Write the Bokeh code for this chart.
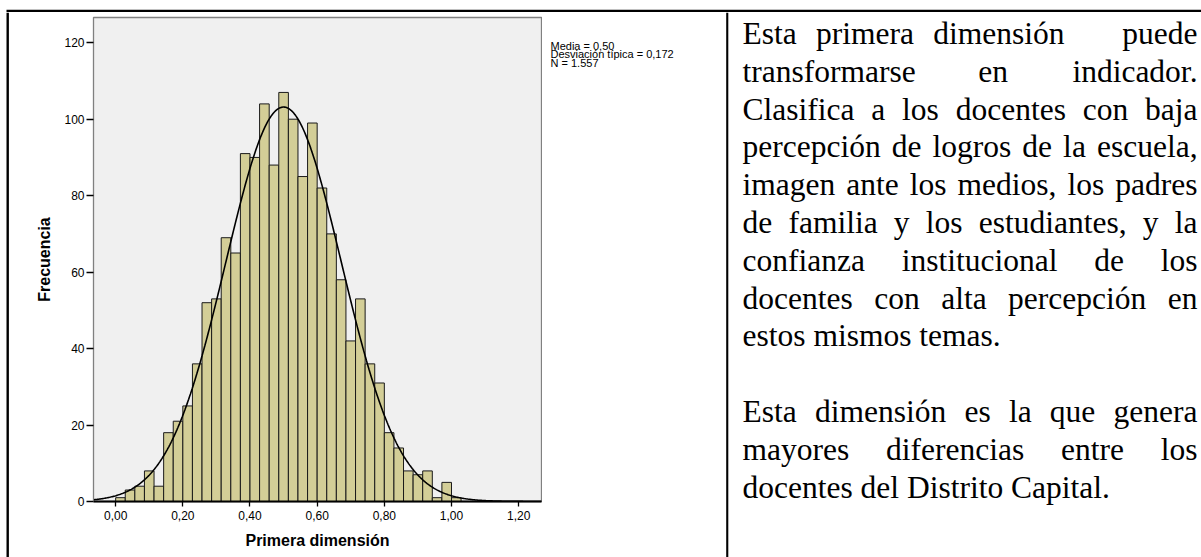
import numpy as np
from bokeh.plotting import figure
from bokeh.layouts import row, column
from bokeh.models import Range1d, FixedTicker, ColumnDataSource
from bokeh.core.properties import value
from bokeh.embed import file_html
from bokeh.resources import INLINE

# ---------------- data ----------------
counts = [1, 3, 4, 8, 4, 18, 21, 25, 36, 52, 53, 69, 65, 91, 90, 104, 88, 107,
          100, 85, 99, 82, 70, 58, 42, 53, 36, 31, 18, 14, 8, 7, 8, 1, 5, 1]
bin_start = 0.0
bin_width = 1 / 35
mean_val = 0.50
std_val = 0.172
n_total = 1557
x_ticks = [0.0, 0.2, 0.4, 0.6, 0.8, 1.0, 1.2]
x_tick_labels = ["0,00", "0,20", "0,40", "0,60", "0,80", "1,00", "1,20"]
y_ticks = [0, 20, 40, 60, 80, 100, 120]
stats_lines = ["Media = 0,50", "Desviación típica = 0,172", "N = 1.557"]
x_label = "Primera dimensión"
y_label = "Frecuencia"
para1 = ["Esta primera dimensión   puede",
         "transformarse en indicador.",
         "Clasifica a los docentes con baja",
         "percepción de logros de la escuela,",
         "imagen ante los medios, los padres",
         "de familia y los estudiantes, y la",
         "confianza institucional de los",
         "docentes con alta percepción en",
         "estos mismos temas."]
para2 = ["Esta dimensión es la que genera",
         "mayores diferencias entre los",
         "docentes del Distrito Capital."]

# ---------------- layout constants (page pixels) ----------------
PAGE_W, PAGE_H = 1201, 557
TOP_H = 12          # strip holding the table's top rule
LEFT_W = 9          # strip holding the table's left rule
HIST_RIGHT = 542    # histogram figure ends here
BODY_H = PAGE_H - TOP_H
W_HIST = HIST_RIGHT - LEFT_W
W_TEXT = PAGE_W - HIST_RIGHT
ML, MR, MT, MB = 84, 1, 5, 56
X0, X1 = -0.066, 1.268
Y0, Y1 = 0, 126.6

SANS = "Liberation Sans"
SERIF = "Liberation Serif"


def no_align(fig):
    if "frame_align" in fig.properties():
        fig.frame_align = False
    return fig


def blank_fig(w, h, x_range, y_range):
    f = figure(width=w, height=h, x_range=x_range, y_range=y_range, title=None,
               output_backend="svg", toolbar_location=None, min_border=0,
               x_axis_location=None, y_axis_location=None)
    f.grid.visible = False
    f.outline_line_color = None
    f.background_fill_color = "white"
    f.border_fill_color = "white"
    return no_align(f)


# ---------------- top rule strip ----------------
top = blank_fig(PAGE_W, TOP_H, Range1d(0, PAGE_W), Range1d(TOP_H, 0))
top.quad(left=[6], right=[PAGE_W], top=[9.3], bottom=[TOP_H], fill_color="black", line_color=None)

# ---------------- left rule strip ----------------
left = blank_fig(LEFT_W, BODY_H, Range1d(0, LEFT_W), Range1d(BODY_H, 0))
left.quad(left=[6], right=[8.4], top=[0], bottom=[BODY_H], fill_color="black", line_color=None)

# ---------------- histogram ----------------
p = figure(width=W_HIST, height=BODY_H, x_range=Range1d(X0, X1), y_range=Range1d(Y0, Y1),
           title=None, output_backend="svg", toolbar_location=None,
           min_border_left=ML, min_border_right=MR, min_border_top=MT, min_border_bottom=MB)
no_align(p)
p.background_fill_color = "#F0F0F0"
p.border_fill_color = "white"
p.outline_line_color = "#808080"
p.outline_line_width = 1.3
p.grid.visible = False

edges = [bin_start + i * bin_width for i in range(len(counts) + 1)]
src = ColumnDataSource(dict(left=edges[:-1], right=edges[1:], top=counts,
                            bottom=[0] * len(counts)))
p.quad(left="left", right="right", top="top", bottom="bottom", source=src,
       fill_color="#D3CE97", line_color="#1a1a1a", line_width=1)

xs = np.linspace(X0, X1, 500)
ys = n_total * bin_width * np.exp(-0.5 * ((xs - mean_val) / std_val) ** 2) / (std_val * np.sqrt(2 * np.pi))
p.line(xs, ys, line_color="black", line_width=1.6)

p.xaxis.ticker = FixedTicker(ticks=x_ticks)
p.xaxis.major_label_overrides = {t: l for t, l in zip(x_ticks, x_tick_labels)}
p.yaxis.ticker = FixedTicker(ticks=y_ticks)
for ax in (p.xaxis[0], p.yaxis[0]):
    ax.minor_tick_line_color = None
    ax.major_tick_in = 0
    ax.major_label_text_font = SANS
    ax.major_label_text_font_size = "12px"
    ax.major_label_text_color = "black"
    ax.axis_label_text_font = SANS
    ax.axis_label_text_font_style = "bold"
    ax.axis_label_text_font_size = "16px"
    ax.axis_label_text_color = "black"
    ax.major_tick_line_color = "black"
    ax.major_tick_line_width = 1.3
p.xaxis.axis_label = x_label
p.yaxis.axis_label = y_label
p.xaxis.major_tick_out = 5
p.xaxis.major_label_standoff = 4
p.xaxis.axis_label_standoff = 9
p.xaxis.axis_line_color = "black"
p.xaxis.axis_line_width = 1.8
p.yaxis.major_tick_out = 7
p.yaxis.major_label_standoff = 2
p.yaxis.axis_label_standoff = 8
p.yaxis.axis_line_color = "#808080"

# ---------------- right part: stats legend, divider, paragraph ----------------
t = blank_fig(W_TEXT, BODY_H, Range1d(0, W_TEXT), Range1d(BODY_H, 0))

def tx(page_x):
    return page_x - HIST_RIGHT

def ty(page_y):
    return page_y - TOP_H

# column divider
t.quad(left=[tx(725.7)], right=[tx(727.8)], top=[0], bottom=[BODY_H],
       fill_color="black", line_color=None)

# stats legend of the chart
t.text(x=[tx(550)] * len(stats_lines), y=[ty(45 + i * 8.8) for i in range(len(stats_lines))],
       text=stats_lines, text_font=value(SANS), text_font_size="11px",
       text_color="black", text_align="left", text_baseline="alphabetic")

# justified paragraph text
TNR = {'a': 444, 'b': 500, 'c': 444, 'd': 500, 'e': 444, 'f': 333, 'g': 500, 'h': 500,
       'i': 278, 'j': 278, 'k': 500, 'l': 278, 'm': 778, 'n': 500, 'o': 500, 'p': 500,
       'q': 500, 'r': 333, 's': 389, 't': 278, 'u': 500, 'v': 500, 'w': 722, 'x': 500,
       'y': 500, 'z': 444, 'á': 444, 'é': 444, 'í': 278, 'ó': 500, 'ú': 500, 'ñ': 500,
       'C': 667, 'D': 722, 'E': 611, '.': 250, ',': 250, ' ': 250}
FS = 31.5

def tw(s):
    return sum(TNR.get(ch, 500) for ch in s) / 1000 * FS

TX0, TX1 = tx(742), tx(1197)
BASE, LINE = ty(33), 37.8
lx, ly, lt, rx, ry, rt = [], [], [], [], [], []

def place(lines, start_idx):
    for k, line in enumerate(lines):
        y = BASE + (start_idx + k) * LINE
        last = (k == len(lines) - 1)
        if last:
            lx.append(TX0); ly.append(y); lt.append(line)
            continue
        tokens = line.split(" ")          # every space is stretched equally (justify)
        n_spaces = len(tokens) - 1
        words = [w for w in tokens if w]
        gap = (TX1 - TX0 - sum(tw(w) for w in words)) / n_spaces
        x = TX0
        for j, tok in enumerate(tokens):
            if tok:
                if j == len(tokens) - 1:
                    rx.append(TX1); ry.append(y); rt.append(tok)
                else:
                    lx.append(x); ly.append(y); lt.append(tok)
            x += tw(tok) + gap

place(para1, 0)
place(para2, len(para1) + 1)

t.text(x=lx, y=ly, text=lt, text_font=value(SERIF), text_font_size="%.1fpx" % FS,
       text_color="black", text_align="left", text_baseline="alphabetic")
t.text(x=rx, y=ry, text=rt, text_font=value(SERIF), text_font_size="%.1fpx" % FS,
       text_color="black", text_align="right", text_baseline="alphabetic")

layout = column(top, row(left, p, t, spacing=0), spacing=0)
open("out.html", "w").write(file_html(layout, INLINE))
